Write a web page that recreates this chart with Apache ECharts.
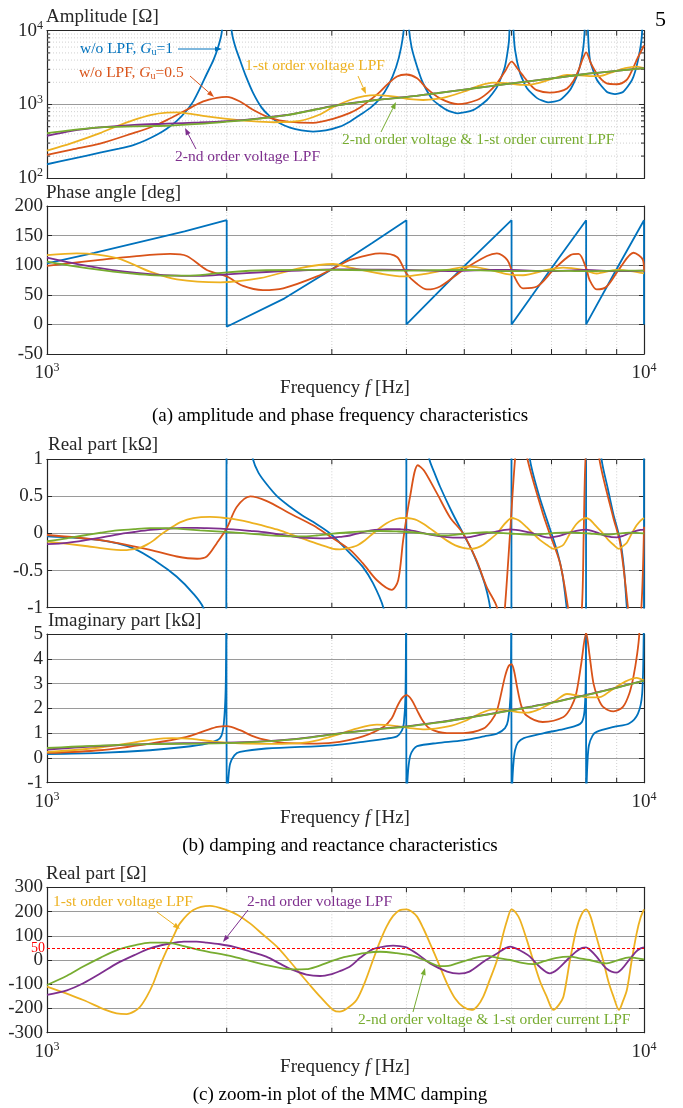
<!DOCTYPE html>
<html>
<head>
<meta charset="utf-8">
<script src="https://cdn.jsdelivr.net/npm/echarts@6/dist/echarts.min.js"></script>
<style>
html, body { margin: 0; padding: 0; background: #fff; }
#chart { width: 683px; height: 1108px; }
</style>
</head>
<body>
<div id="chart"></div>
<script>
// axes / ticks
var freqMin = 1000, freqMax = 10000;
var freqMinorTicks = [2000, 3000, 4000, 5000, 6000, 7000, 8000, 9000];
var ampMinorTicks = [200, 300, 400, 500, 600, 700, 800, 900, 2000, 3000, 4000, 5000, 6000, 7000, 8000, 9000];
var dampingLimit = 50;

// (a) amplitude [Ohm]
var ampBlue = [[1000,155],[1100,183],[1227,222],[1320,252],[1395,282],[1460,325],[1530,392],[1587,470],[1650,600],[1714,830],[1760,1120],[1804,1650],[1850,2550],[1900,4000],[1935,6000],[1962,9500],[1990,40000],[2000,100000],[2010,40000],[2040,9500],[2068,6000],[2105,4000],[2150,2500],[2213,1450],[2290,900],[2363,690],[2450,560],[2553,485],[2670,445],[2790,430],[2930,445],[3092,500],[3220,590],[3342,720],[3480,900],[3611,1200],[3730,1800],[3843,3200],[3920,6000],[3965,12000],[4000,100000],[4035,12000],[4080,6000],[4168,3250],[4265,1940],[4433,1150],[4677,840],[4880,760],[5172,840],[5458,1150],[5674,1730],[5848,3250],[5942,7500],[6000,100000],[6040,12000],[6081,5500],[6200,2660],[6368,1660],[6620,1220],[6907,1070],[7234,1150],[7517,1570],[7752,2660],[7903,5500],[7960,12000],[8000,100000],[8060,9000],[8120,4000],[8342,2150],[8670,1480],[8942,1380],[9222,1480],[9550,2150],[9772,4000],[9922,9000],[10000,100000]];
var ampRed = [[1000,207],[1100,245],[1227,295],[1395,410],[1500,500],[1587,615],[1714,850],[1827,1100],[1925,1230],[2000,1270],[2105,1100],[2213,850],[2363,660],[2553,580],[2790,565],[3014,640],[3218,770],[3350,920],[3475,1150],[3600,1450],[3705,1830],[3857,2400],[4000,2550],[4168,2270],[4325,1650],[4552,1210],[4880,1010],[5252,1150],[5480,1450],[5674,1950],[5848,2800],[6000,3800],[6150,3000],[6290,2380],[6450,1850],[6610,1570],[6950,1450],[7200,1500],[7430,1650],[7620,2100],[7770,2930],[7900,4200],[8000,5100],[8150,3600],[8327,2650],[8500,2150],[8660,1930],[9000,1880],[9350,2150],[9550,2900],[9720,4000],[10000,6300]];
var ampYellow = [[1000,237],[1100,300],[1227,410],[1310,510],[1395,615],[1490,720],[1587,775],[1650,780],[1714,760],[1852,690],[2000,640],[2200,595],[2400,575],[2653,600],[2850,720],[3014,920],[3218,1150],[3400,1300],[3570,1340],[3857,1270],[4050,1180],[4265,1150],[4500,1190],[4677,1270],[5000,1500],[5300,1800],[5585,1980],[5900,1940],[6200,1850],[6368,1840],[6700,1980],[7100,2300],[7430,2510],[7800,2480],[8100,2430],[8425,2430],[8800,2700],[9300,3100],[9720,3250],[10000,3100]];
var ampPurple = [[1000,375],[1100,440],[1227,490],[1400,530],[1587,550],[1800,570],[2000,595],[2250,645],[2500,715],[2750,825],[3014,955],[3300,1065],[3600,1165],[4000,1265],[4500,1425],[5000,1595],[5500,1765],[6000,1935],[6500,2095],[7000,2255],[7500,2425],[8000,2595],[8500,2725],[9000,2855],[9500,2985],[10000,3100]];
var ampGreen = [[1000,410],[1100,450],[1227,490],[1400,505],[1587,515],[1800,545],[2000,585],[2250,640],[2500,710],[2750,820],[3014,950],[3300,1060],[3600,1160],[4000,1260],[4500,1420],[5000,1590],[5500,1760],[6000,1930],[6500,2090],[7000,2250],[7500,2420],[8000,2590],[8500,2720],[9000,2850],[9500,2980],[10000,3100]];

// (a) phase angle [deg]
var phaseBlue = [[1000,103],[1200,121],[1400,137],[1700,157],[2000,176],[2000,-4],[2500,44],[3000,93],[3500,137],[4000,176],[4000,0],[4900,90],[6000,176],[6000,0],[6930,89],[8000,176],[8000,0],[8945,89],[10000,176],[10000,0]];
var phaseRed = [[1000,99],[1227,109],[1400,115],[1608,119],[1714,115.5],[1852,92],[2000,81],[2130,65],[2300,58],[2487,61],[2833,81],[3092,100],[3218,109],[3612,120],[3857,114],[4000,86],[4160,69],[4330,59],[4555,64],[4977,92],[5456,115.5],[5670,120],[5900,109],[6050,83],[6270,61],[6620,64],[7050,92],[7530,117],[7770,119],[8000,95],[8107,75],[8330,59],[8660,64],[9110,95],[9600,121],[9960,109],[10000,89]];
var phaseYellow = [[1000,117],[1122,120],[1310,112],[1488,89],[1650,76],[1950,71],[2275,78],[2653,95],[3015,102],[3218,96],[3612,86],[3944,81],[4270,85],[4675,92],[5110,97.5],[5524,92],[5900,85],[6270,83],[6880,92],[7320,96],[7910,92],[8330,86],[9000,92],[9500,90],[10000,86]];
var phasePurple = [[1000,113],[1100,104],[1227,95],[1350,89],[1488,85],[1650,82.5],[1804,82],[2000,84.6],[2330,88.5],[2650,91],[3014,93],[3500,92.5],[4000,92],[4700,90],[5500,92],[6000,92],[6900,90],[8000,92],[9000,90],[10000,91]];
var phaseGreen = [[1000,106],[1100,99],[1227,92],[1350,87],[1488,83.4],[1650,82.5],[1804,83.4],[2000,88],[2330,91.5],[3014,92],[4000,91],[5000,92],[6000,90],[7000,91],[8000,90],[9000,91],[10000,91]];

// (b) real part [kOhm]
var realBlue = [[1000,-0.04],[1227,-0.09],[1395,-0.2],[1526,-0.38],[1648,-0.58],[1758,-0.81],[1827,-1],[1880,-1.4],[1940,-2.5],[1995,-3],[2000,3],[2060,2.5],[2140,1.6],[2213,1],[2260,0.82],[2330,0.67],[2430,0.5],[2553,0.36],[2670,0.25],[2790,0.157],[2980,0],[3222,-0.27],[3380,-0.45],[3516,-0.67],[3660,-1],[3760,-1.5],[3900,-2.5],[3997,-3],[4000,3],[4150,2.2],[4300,1.4],[4370,1],[4450,0.83],[4555,0.63],[4760,0.3],[4977,0],[5150,-0.23],[5310,-0.49],[5430,-0.72],[5524,-1],[5700,-2],[5995,-3],[6000,3],[6250,2],[6440,1],[6650,0.55],[6880,0.18],[7140,-0.22],[7300,-0.55],[7420,-1],[7650,-2],[7995,-3],[8000,3],[8250,2],[8490,1],[8700,0.6],[8880,0.27],[9120,-0.09],[9250,-0.45],[9360,-1],[9600,-2],[9995,-3],[10000,3]];
var realRed = [[1000,-0.02],[1227,-0.09],[1488,-0.22],[1650,-0.31],[1784,-0.34],[1852,-0.31],[1925,-0.13],[2000,0.07],[2080,0.36],[2190,0.5],[2330,0.44],[2553,0.27],[2790,0.11],[2980,-0.04],[3218,-0.22],[3380,-0.4],[3570,-0.63],[3780,-0.76],[3875,-0.63],[3950,-0.09],[4055,0.49],[4180,0.92],[4280,0.85],[4500,0.54],[4730,0.22],[4977,0],[5240,-0.36],[5450,-0.72],[5674,-1],[5760,-1.5],[5848,-1],[5965,0],[6081,1],[6200,1.6],[6380,1],[6770,0.27],[6950,0],[7234,-0.4],[7460,-1],[7680,-1.8],[7870,-1],[7925,0],[7980,1],[8150,2],[8420,1],[8880,0.22],[9120,-0.13],[9400,-1],[9650,-2],[9900,-1],[10000,0.09]];

// (b) imaginary part [kOhm]
var imagBlue = [[1000,0.15],[1227,0.2],[1488,0.31],[1695,0.44],[1852,0.58],[1930,0.72],[1960,0.9],[1978,1.4],[1992,2.8],[1998,6],[2000,6],[2000,-2],[2006,-1.4],[2015,-0.7],[2027,-0.23],[2060,0.1],[2105,0.24],[2330,0.38],[3014,0.51],[3383,0.65],[3700,0.78],[3857,0.87],[3930,1.1],[3960,1.39],[3985,2.5],[3997,6],[4000,6],[4000,-2],[4010,-1.2],[4030,-0.4],[4060,0.1],[4110,0.35],[4168,0.48],[4500,0.6],[4977,0.71],[5400,0.87],[5674,0.98],[5850,1.2],[5920,1.52],[5975,2.5],[5996,6],[6000,6],[6000,-2],[6012,-1.2],[6040,-0.3],[6080,0.3],[6150,0.62],[6290,0.8],[6800,1.0],[7330,1.16],[7700,1.3],[7870,1.45],[7950,1.9],[7985,3],[7997,6],[8000,6],[8000,-2],[8012,-1.2],[8040,-0.2],[8085,0.5],[8200,0.9],[8330,1.05],[8900,1.25],[9440,1.39],[9770,1.79],[9930,2.6],[9990,5],[10000,6]];
var imagRed = [[1000,0.2],[1227,0.31],[1488,0.58],[1714,0.85],[1852,1.12],[1930,1.25],[2000,1.28],[2105,1.12],[2200,0.9],[2275,0.78],[2487,0.61],[2833,0.58],[3092,0.65],[3383,0.87],[3660,1.25],[3780,1.6],[3857,2.06],[3930,2.4],[4000,2.53],[4080,2.35],[4168,1.92],[4260,1.5],[4380,1.18],[4677,1.0],[4977,1.0],[5380,1.18],[5550,1.5],[5674,1.92],[5848,3.27],[5930,3.7],[6000,3.78],[6060,3.5],[6128,2.87],[6230,2.1],[6350,1.72],[6765,1.45],[7330,1.65],[7550,2.05],[7700,2.6],[7850,3.8],[8000,5.05],[8100,4.2],[8230,3.0],[8380,2.4],[8540,2.06],[8890,1.88],[9220,2.06],[9450,2.6],[9600,3.27],[9740,4.2],[9820,5],[10000,9]];
var imagYellow = [[1000,0.24],[1100,0.31],[1227,0.42],[1395,0.62],[1500,0.74],[1620,0.8],[1750,0.77],[1900,0.66],[2100,0.59],[2400,0.57],[2653,0.6],[2850,0.72],[3050,0.92],[3300,1.18],[3570,1.34],[3857,1.28],[4100,1.19],[4300,1.15],[4700,1.27],[5000,1.48],[5300,1.78],[5585,1.96],[5900,1.92],[6200,1.84],[6400,1.83],[6700,1.98],[7100,2.3],[7430,2.58],[7800,2.5],[8100,2.44],[8425,2.45],[8800,2.72],[9300,3.08],[9720,3.23],[10000,3.12]];
var imagPurple = [[1000,0.34],[1100,0.41],[1227,0.48],[1500,0.57],[1800,0.6],[2000,0.62],[2250,0.66],[2500,0.73],[2750,0.83],[3014,0.96],[3300,1.07],[3600,1.17],[4000,1.27],[4500,1.43],[5000,1.6],[5500,1.77],[6000,1.93],[6500,2.08],[7000,2.23],[7500,2.39],[8000,2.54],[8500,2.69],[9000,2.84],[9500,2.99],[10000,3.12]];
var imagGreen = [[1000,0.4],[1100,0.45],[1227,0.5],[1500,0.56],[1800,0.58],[2000,0.6],[2250,0.65],[2500,0.72],[2750,0.82],[3014,0.95],[3300,1.06],[3600,1.16],[4000,1.26],[4500,1.42],[5000,1.59],[5500,1.76],[6000,1.92],[6500,2.07],[7000,2.22],[7500,2.38],[8000,2.53],[8500,2.68],[9000,2.83],[9500,2.98],[10000,3.12]];

// (c) real part of the LPF cases [Ohm]
var realYellow = [[1000,-110],[1150,-165],[1250,-205],[1308,-220],[1360,-223],[1400,-212],[1432,-193],[1470,-150],[1507,-96],[1545,-25],[1587,41],[1630,100],[1670,151],[1758,206],[1875,223],[2000,206],[2090,185],[2188,151],[2300,105],[2427,55],[2540,0],[2653,-55],[2760,-105],[2867,-151],[3015,-206],[3092,-213],[3180,-200],[3300,-165],[3410,-90],[3516,0],[3610,75],[3705,138],[3800,182],[3900,206],[4000,209],[4080,200],[4168,179],[4270,130],[4380,69],[4530,-15],[4677,-96],[4830,-160],[4977,-193],[5142,-206],[5260,-190],[5380,-151],[5520,-80],[5674,0],[5800,100],[5900,165],[6000,209],[6100,195],[6200,165],[6360,85],[6520,0],[6700,-90],[6870,-151],[7050,-206],[7200,-185],[7330,-151],[7517,0],[7700,124],[7850,185],[8000,209],[8120,185],[8230,138],[8380,70],[8540,0],[8720,-90],[8890,-151],[9080,-206],[9220,-170],[9360,-124],[9540,0],[9720,110],[9870,175],[10000,209]];
var realPurple = [[1000,-144],[1080,-125],[1150,-96],[1230,-55],[1310,-14],[1400,20],[1488,48],[1590,66],[1695,76],[1780,76],[1852,72],[1950,65],[2050,55],[2190,35],[2330,14],[2450,-14],[2580,-41],[2720,-60],[2867,-66],[3000,-58],[3100,-45],[3218,-27],[3350,10],[3516,45],[3700,57],[3800,59],[3900,57],[4000,52],[4200,20],[4380,-14],[4680,-48],[4900,-56],[5100,-48],[5400,-5],[5674,27],[5850,48],[5970,55],[6100,48],[6300,30],[6440,14],[6700,-30],[6950,-55],[7150,-40],[7430,0],[7700,35],[7880,50],[8000,52],[8150,38],[8327,14],[8650,-35],[9000,-52],[9200,-35],[9440,0],[9700,35],[9870,48],[10000,52]];
var realGreen = [[1000,-103],[1080,-65],[1150,-27],[1230,10],[1310,41],[1400,60],[1488,72],[1580,72],[1630,68],[1804,41],[2050,14],[2330,-21],[2580,-39],[2720,-38],[2830,-27],[2980,-7],[3092,7],[3218,17],[3400,28],[3612,34],[3850,28],[4110,17],[4330,-5],[4552,-25],[4700,-24],[4860,-14],[5150,5],[5456,17],[5700,8],[5970,0],[6250,-12],[6520,-17],[6800,-5],[7100,8],[7517,14],[7800,7],[8110,0],[8400,-10],[8660,-14],[9000,-3],[9440,11],[9700,8],[10000,3]];

var C = {blue: '#0072BD', red: '#D95319', yellow: '#EDB120', purple: '#7E2F8E', green: '#77AC30'};
var serif = '"Liberation Serif", "Times New Roman", serif';
var ink = '#262626';

// plot boxes: top, height, y range
var panels = [
	{top: 30.7, height: 147.6, type: 'log', min: 100, max: 10000},
	{top: 206, height: 148, type: 'value', min: -50, max: 200, interval: 50},
	{top: 459.3, height: 148.4, type: 'value', min: -1, max: 1, interval: 0.5},
	{top: 634, height: 148.7, type: 'value', min: -1, max: 5, interval: 1},
	{top: 887.3, height: 145.4, type: 'value', min: -300, max: 300, interval: 100}
];
var xLabelShown = [false, true, false, true, true];

function toKilo(arr) {
	return arr.map(function (p) { return [p[0], p[1] / 1000]; });
}

var powRich = {
	b: {fontFamily: serif, fontSize: 19, color: ink},
	s: {fontFamily: serif, fontSize: 12, color: ink, padding: [0, 0, 10, 0]}
};
function powLabel(v) {
	return '{b|10}{s|' + Math.round(Math.log10(v)) + '}';
}

var grids = [], xAxes = [], yAxes = [], series = [];
panels.forEach(function (p, i) {
	grids.push({left: 47, right: 39, top: p.top, height: p.height});
	[0, 1].forEach(function (k) {
		xAxes.push({
			type: 'log', logBase: 10, min: freqMin, max: freqMax, gridIndex: i,
			position: k ? 'top' : 'bottom',
			axisLine: {show: true, onZero: false, lineStyle: {color: ink, width: 1.2}},
			axisTick: {show: true, inside: true, length: 5, lineStyle: {color: ink}},
			axisLabel: {show: !k && xLabelShown[i], formatter: powLabel, rich: powRich,
				margin: 8, showMinLabel: true, showMaxLabel: true},
			splitLine: {show: false}
		});
		yAxes.push({
			type: p.type, logBase: 10, min: p.min, max: p.max, interval: p.interval,
			gridIndex: i, position: k ? 'right' : 'left',
			axisLine: {show: true, onZero: false, lineStyle: {color: ink, width: 1.2}},
			axisTick: {show: true, inside: true, length: 5, lineStyle: {color: ink}},
			axisLabel: {show: !k, margin: 4, color: ink, fontFamily: serif, fontSize: 19,
				formatter: p.type === 'log' ? powLabel : null, rich: powRich},
			splitLine: {show: !k, lineStyle: {color: '#9a9a9a', width: 1}}
		});
	});
	// dotted vertical grid + inside minor ticks at 2000..9000 Hz
	series.push({
		type: 'custom', xAxisIndex: 2 * i, yAxisIndex: 2 * i, z: 1, silent: true,
		data: freqMinorTicks.map(function (f) { return [f, p.min]; }),
		renderItem: function (params, api) {
			var cs = params.coordSys;
			var x = api.coord([api.value(0), api.value(1)])[0];
			return {type: 'group', children: [
				{type: 'line', shape: {x1: x, y1: cs.y, x2: x, y2: cs.y + cs.height},
					style: {stroke: '#c4c4c4', lineWidth: 0.8, lineDash: [1, 2]}},
				{type: 'line', shape: {x1: x, y1: cs.y + cs.height, x2: x, y2: cs.y + cs.height - 5},
					style: {stroke: ink, lineWidth: 1}},
				{type: 'line', shape: {x1: x, y1: cs.y, x2: x, y2: cs.y + 5},
					style: {stroke: ink, lineWidth: 1}}
			]};
		}
	});
});

// log minor grid for the amplitude plot
series.push({
	type: 'custom', xAxisIndex: 0, yAxisIndex: 0, z: 1, silent: true,
	data: ampMinorTicks.map(function (v) { return [freqMin, v]; }),
	renderItem: function (params, api) {
		var cs = params.coordSys;
		var y = api.coord([api.value(0), api.value(1)])[1];
		return {type: 'group', children: [
			{type: 'line', shape: {x1: cs.x, y1: y, x2: cs.x + cs.width, y2: y},
				style: {stroke: '#c4c4c4', lineWidth: 0.8, lineDash: [1, 2]}},
			{type: 'line', shape: {x1: cs.x, y1: y, x2: cs.x + 3, y2: y}, style: {stroke: ink, lineWidth: 1}},
			{type: 'line', shape: {x1: cs.x + cs.width, y1: y, x2: cs.x + cs.width - 3, y2: y},
				style: {stroke: ink, lineWidth: 1}}
		]};
	}
});

function line(name, data, color, gi, smooth) {
	return {
		name: name, type: 'line', data: data, xAxisIndex: 2 * gi, yAxisIndex: 2 * gi,
		showSymbol: false, symbol: 'none', smooth: smooth === undefined ? 0.3 : smooth,
		lineStyle: {color: color, width: 1.8}, itemStyle: {color: color}, z: 3, clip: true
	};
}

var nBlue = 'w/o LPF, Gu=1', nRed = 'w/o LPF, Gu=0.5', nYellow = '1-st order voltage LPF',
	nPurple = '2-nd order voltage LPF', nGreen = '2-nd order voltage & 1-st order current LPF';

series.push(
	line(nBlue, ampBlue, C.blue, 0, 0.2), line(nRed, ampRed, C.red, 0), line(nYellow, ampYellow, C.yellow, 0),
	line(nPurple, ampPurple, C.purple, 0), line(nGreen, ampGreen, C.green, 0),
	line(nBlue, phaseBlue, C.blue, 1, false), line(nRed, phaseRed, C.red, 1), line(nYellow, phaseYellow, C.yellow, 1),
	line(nPurple, phasePurple, C.purple, 1), line(nGreen, phaseGreen, C.green, 1),
	line(nBlue, realBlue, C.blue, 2), line(nRed, realRed, C.red, 2), line(nYellow, toKilo(realYellow), C.yellow, 2),
	line(nPurple, toKilo(realPurple), C.purple, 2), line(nGreen, toKilo(realGreen), C.green, 2),
	line(nBlue, imagBlue, C.blue, 3), line(nRed, imagRed, C.red, 3), line(nYellow, imagYellow, C.yellow, 3),
	line(nPurple, imagPurple, C.purple, 3), line(nGreen, imagGreen, C.green, 3),
	line(nYellow, realYellow, C.yellow, 4)
);
var purpleZoom = line(nPurple, realPurple, C.purple, 4);
purpleZoom.markLine = {
	silent: true, symbol: 'none',
	lineStyle: {color: '#ff0000', type: [3, 2], width: 1},
	label: {show: true, position: 'start', formatter: String(dampingLimit), color: '#ff0000',
		fontFamily: serif, fontSize: 14, distance: 2},
	data: [{yAxis: dampingLimit}]
};
series.push(purpleZoom, line(nGreen, realGreen, C.green, 4));

// annotations
function txt(x, y, text, size, color, align, rich) {
	return {type: 'text', x: x, y: y, z: 10, style: {
		text: text, fill: color, font: size + 'px ' + serif,
		textAlign: align || 'left', textVerticalAlign: 'middle', rich: rich
	}};
}
function arrow(x1, y1, x2, y2, color) {
	var a = Math.atan2(y2 - y1, x2 - x1), L = 7, W = 2.6;
	var bx = x2 - L * Math.cos(a), by = y2 - L * Math.sin(a);
	return [
		{type: 'line', z: 10, shape: {x1: x1, y1: y1, x2: bx, y2: by}, style: {stroke: color, lineWidth: 1}},
		{type: 'polygon', z: 10, shape: {points: [[x2, y2],
			[bx - W * Math.sin(a), by + W * Math.cos(a)], [bx + W * Math.sin(a), by - W * Math.cos(a)]]},
			style: {fill: color}}
	];
}
function guRich(color) {
	return {
		i: {fontFamily: serif, fontSize: 15.5, fontStyle: 'italic', fill: color},
		s: {fontFamily: serif, fontSize: 10, fill: color, padding: [7, 0, 0, 0]}
	};
}
var fRich = {i: {fontFamily: serif, fontSize: 19, fontStyle: 'italic', fill: ink}};

var graphics = [
	txt(655, 20, '5', 22, '#000'),
	txt(46, 17, 'Amplitude [\u03a9]', 19, ink),
	txt(46, 193, 'Phase angle [deg]', 19, ink),
	txt(48, 445, 'Real part [k\u03a9]', 19, ink),
	txt(48, 621, 'Imaginary part [k\u03a9]', 19, ink),
	txt(46, 874, 'Real part [\u03a9]', 19, ink),
	txt(345, 388, 'Frequency {i|f} [Hz]', 19, ink, 'center', fRich),
	txt(345, 818, 'Frequency {i|f} [Hz]', 19, ink, 'center', fRich),
	txt(345, 1067, 'Frequency {i|f} [Hz]', 19, ink, 'center', fRich),
	txt(340, 416, '(a) amplitude and phase frequency characteristics', 19, '#000', 'center'),
	txt(340, 846, '(b) damping and reactance characteristics', 19, '#000', 'center'),
	txt(340, 1095, '(c) zoom-in plot of the MMC damping', 19, '#000', 'center'),
	txt(80, 49, 'w/o LPF, {i|G}{s|u}=1', 15.5, C.blue, 'left', guRich(C.blue)),
	txt(79, 73, 'w/o LPF, {i|G}{s|u}=0.5', 15.5, C.red, 'left', guRich(C.red)),
	txt(245, 66, nYellow, 15.5, C.yellow),
	txt(175, 157, nPurple, 15.5, C.purple),
	txt(342, 140, nGreen, 15.5, C.green),
	txt(53, 902, nYellow, 15.5, C.yellow),
	txt(247, 902, nPurple, 15.5, C.purple),
	txt(358, 1020, nGreen, 15.5, C.green)
].concat(
	arrow(178, 49, 222, 49, C.blue),
	arrow(190, 76, 214, 97, C.red),
	arrow(358, 76, 366, 94, C.yellow),
	arrow(196, 149, 185, 128, C.purple),
	arrow(381, 132, 396, 102, C.green),
	arrow(157, 912, 180, 929, C.yellow),
	arrow(248, 910, 223, 942, C.purple),
	arrow(413, 1012, 425, 968, C.green)
);

var chart = echarts.init(document.getElementById('chart'));
chart.setOption({
	animation: false,
	backgroundColor: '#fff',
	grid: grids,
	xAxis: xAxes,
	yAxis: yAxes,
	series: series,
	graphic: graphics
});
window.addEventListener('resize', chart.resize);
</script>
</body>
</html>
